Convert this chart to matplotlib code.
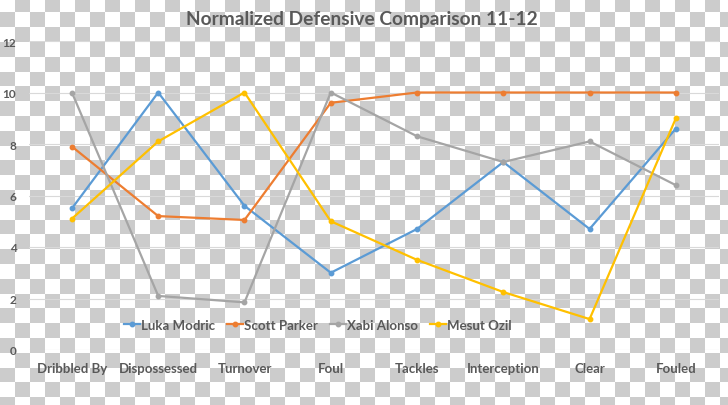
import numpy as np
import matplotlib
matplotlib.use("Agg")
import matplotlib.pyplot as plt

# data
categories = ["Dribbled By", "Dispossessed", "Turnover", "Foul",
              "Tackles", "Interception", "Clear", "Fouled"]
luka_modric = [5.5, 10.0, 5.6, 3.0, 4.7, 7.3, 4.7, 8.6]
scott_parker = [7.9, 5.2, 5.05, 9.6, 10.0, 10.0, 10.0, 10.0]
xabi_alonso = [10.0, 2.1, 1.85, 10.0, 8.3, 7.3, 8.1, 6.4]
mesut_ozil = [5.1, 8.1, 10.0, 5.0, 3.5, 2.25, 1.2, 9.0]
y_ticks = [0, 2, 4, 6, 8, 10, 12]

series = [("Luka Modric", luka_modric, "#5B9BD5"),
          ("Scott Parker", scott_parker, "#ED7D31"),
          ("Xabi Alonso", xabi_alonso, "#A5A5A5"),
          ("Mesut Ozil", mesut_ozil, "#FFC000")]

plt.rcParams['font.family'] = ['Lato', 'DejaVu Sans']
txt = "#595959"

W, H = 728, 406
fig = plt.figure(figsize=(W / 100, H / 100), dpi=100)

# transparency checkerboard behind the chart
yy, xx = np.mgrid[0:H, 0:W]
cell = ((xx // 15) + ((yy + 2) // 14.8).astype(int)) % 2
bg = np.where(cell[..., None] == 1, 0.80, 1.0) * np.ones((H, W, 3))
bg_ax = fig.add_axes([0, 0, 1, 1], zorder=-1)
bg_ax.imshow(bg, aspect='auto', interpolation='nearest')
bg_ax.axis('off')

ax = fig.add_axes([28.8 / W, 1 - 351 / H, (719 - 28.8) / W, (351 - 42) / H],
                  zorder=1)
ax.patch.set_alpha(0)

x = np.arange(len(categories))
for name, vals, col in series:
    ax.plot(x, vals, color=col, lw=1.6, marker='o', ms=3.2, label=name,
            solid_joinstyle='miter')

ax.set_xlim(-0.5, len(categories) - 0.5)
ax.set_ylim(0, 12)
ax.set_yticks(y_ticks)
ax.set_xticks(x)
ax.set_xticklabels(categories)
ax.grid(axis='y', color='#d9d9d9', lw=0.8)
ax.set_axisbelow(True)
for s in ax.spines.values():
    s.set_visible(False)
ax.tick_params(length=0, labelcolor=txt)
ax.tick_params(axis='y', pad=9, labelsize=8.5)
ax.tick_params(axis='x', pad=9, labelsize=9.5)
for lab in ax.get_xticklabels() + ax.get_yticklabels():
    lab.set_fontweight('bold')

fig.text(362 / W, 1 - 19 / H, "Normalized Defensive Comparison 11-12",
         ha='center', va='center', fontsize=13.8, color=txt,
         fontweight='bold', zorder=2)

leg = ax.legend(loc='center', bbox_to_anchor=(318 / W, 1 - 326 / H),
                bbox_transform=fig.transFigure, ncol=4, frameon=False,
                handlelength=1.2, handletextpad=0.1, columnspacing=0.9,
                prop={'size': 9.5, 'weight': 'bold'})
for t in leg.get_texts():
    t.set_color(txt)

fig.savefig("out.png", dpi=100)
